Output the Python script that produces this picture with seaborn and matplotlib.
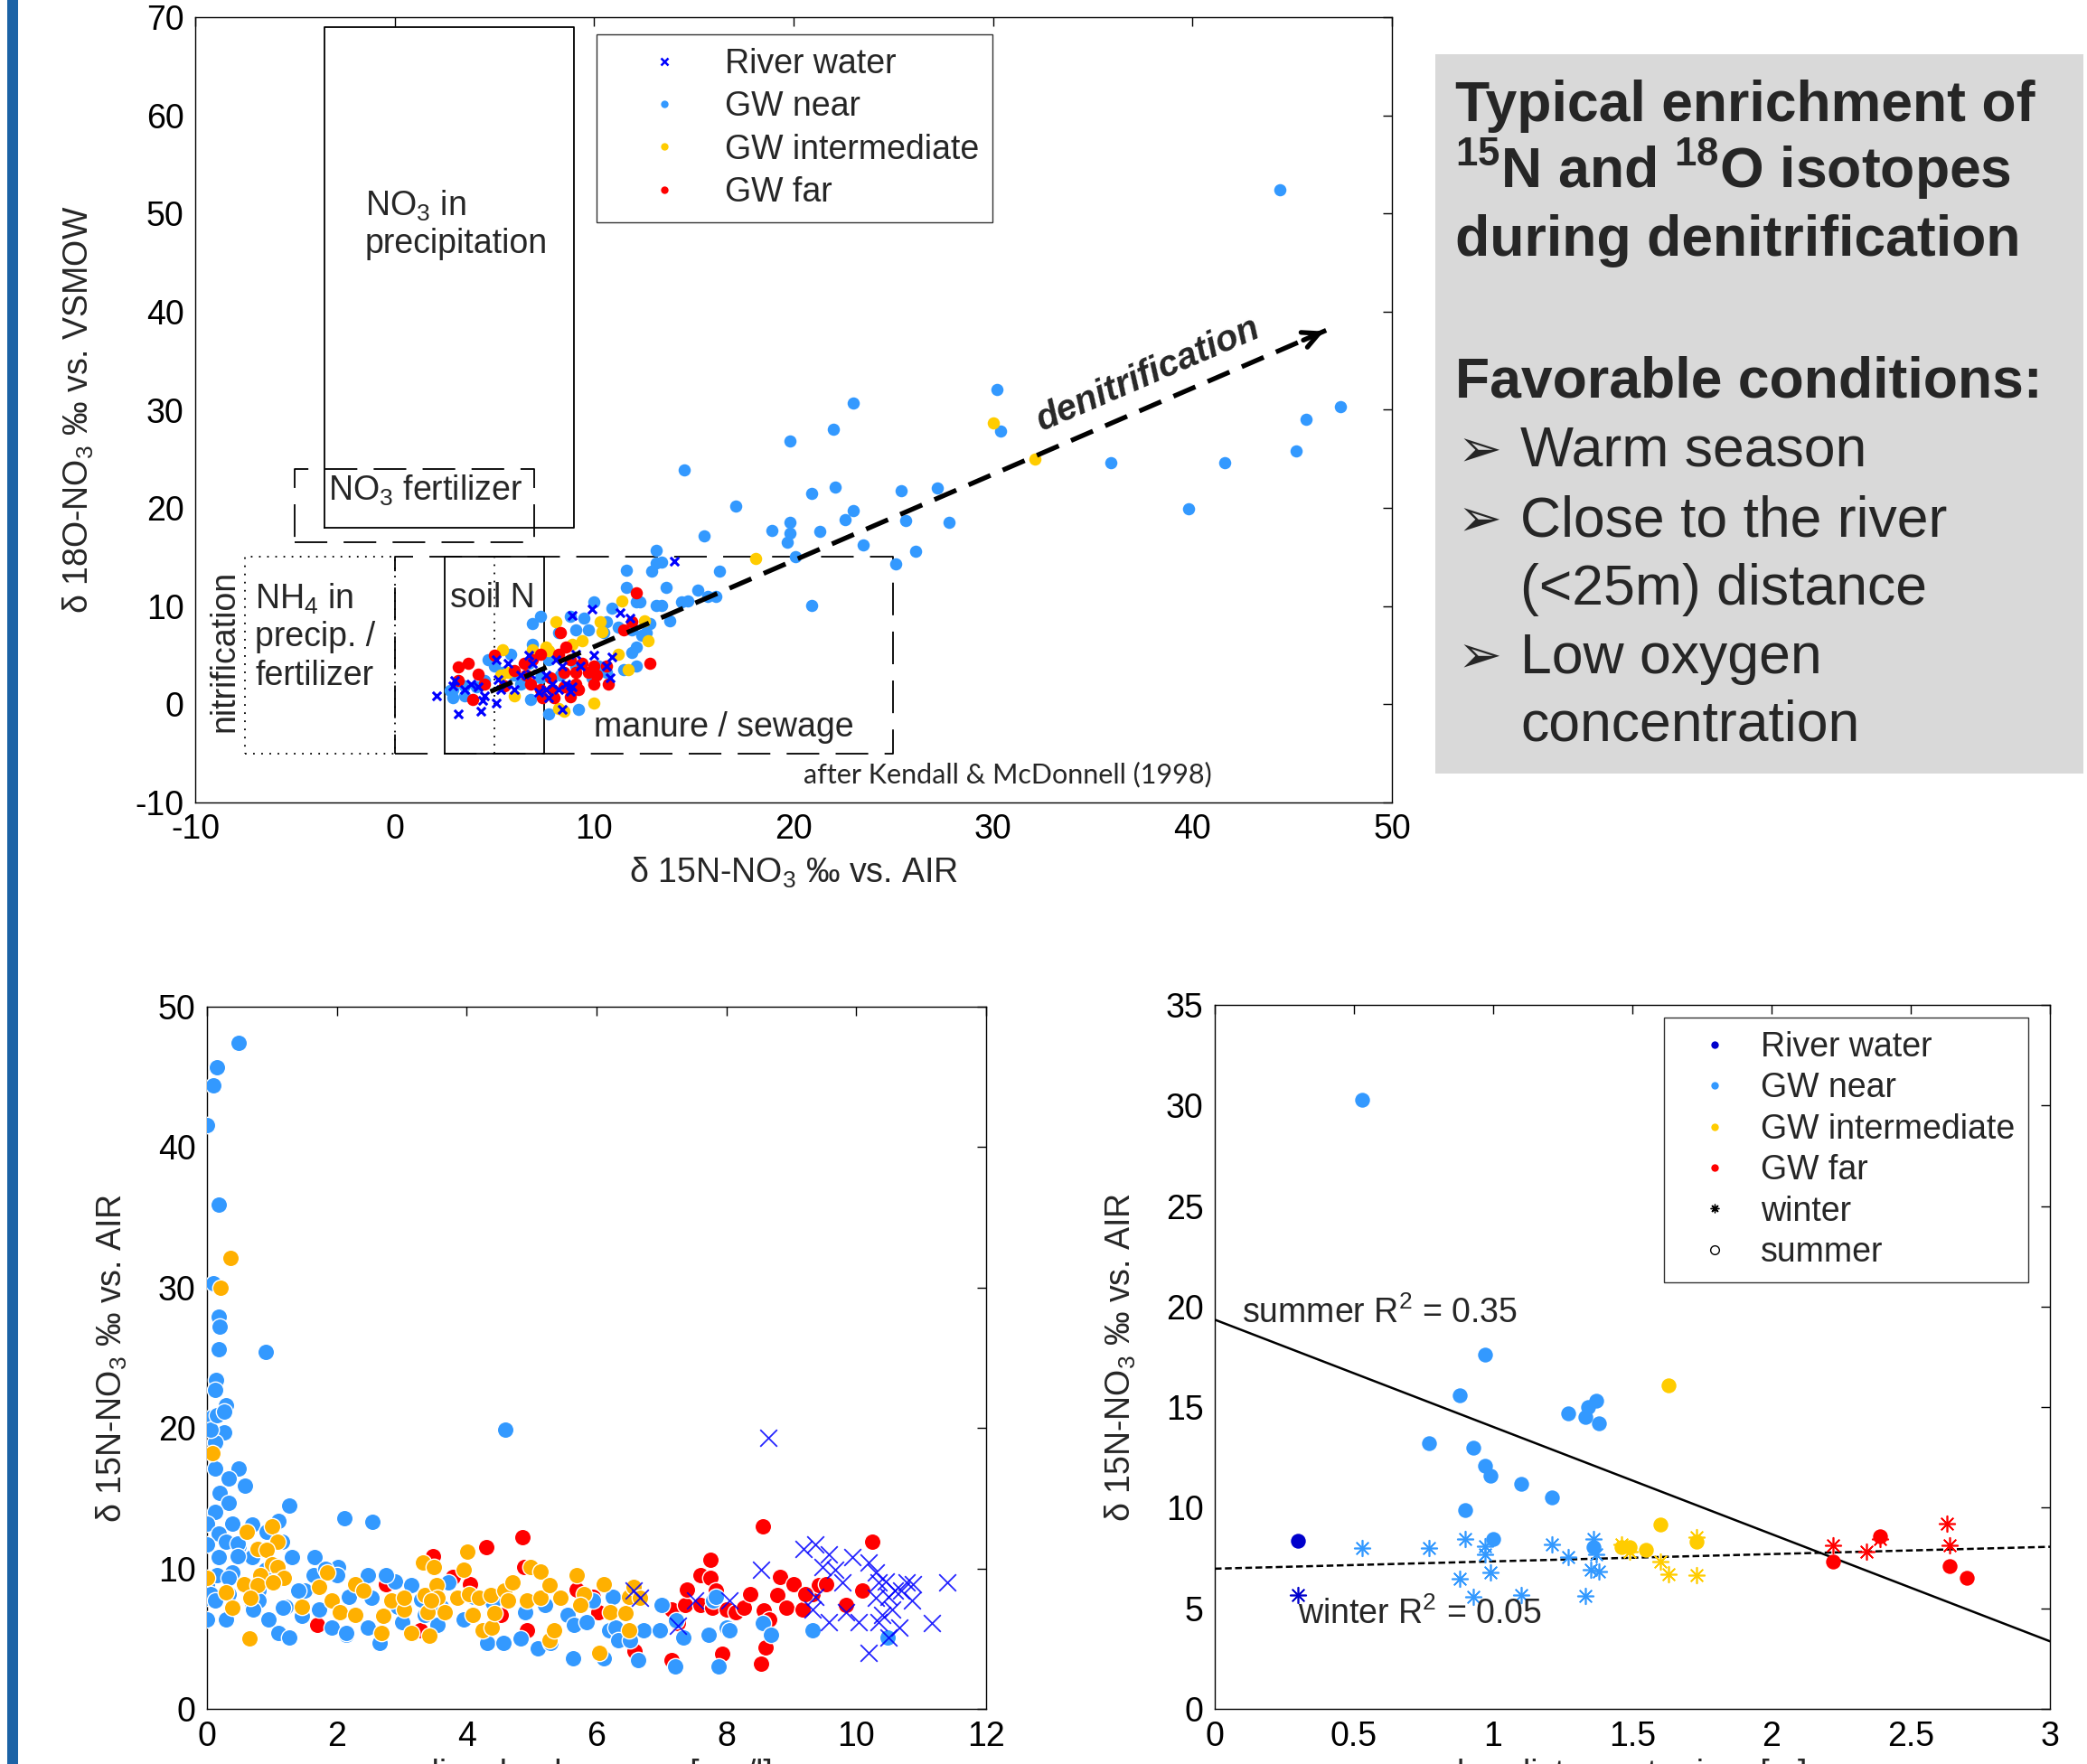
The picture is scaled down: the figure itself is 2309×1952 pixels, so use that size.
import numpy as np
import matplotlib
matplotlib.use("Agg")
import matplotlib.pyplot as plt
import seaborn as sns
from matplotlib.lines import Line2D
from matplotlib.patches import Rectangle
from matplotlib.ticker import FuncFormatter

sns.set_style("white")
plt.rcParams['font.family'] = ['Liberation Sans', 'DejaVu Sans']
plt.rcParams['mathtext.fontset'] = 'custom'
plt.rcParams['mathtext.rm'] = 'Liberation Sans'
plt.rcParams['mathtext.it'] = 'Liberation Sans:italic'
plt.rcParams['mathtext.bf'] = 'Liberation Sans:bold'

# ---------------- data: d15N vs d18O (top panel) ----------------
top_near_x = [44.4, 30.2, 30.4, 47.4, 45.7, 45.2, 35.9, 41.6, 39.8, 23.0, 22.0, 19.8, 22.1, 20.9, 25.4,
              27.2, 14.5, 17.1, 23.0, 22.6, 25.6, 27.8, 19.8, 18.9, 21.3, 19.8, 19.7, 15.5, 23.5, 26.1,
              20.1, 25.1, 20.9, 13.1, 13.1, 13.4, 11.6, 12.9, 13.6, 15.2, 15.7, 11.6, 12.1, 12.3, 13.1,
              13.4, 14.4, 14.7, 10.0, 10.9, 7.3, 6.9, 8.8, 9.5, 10.6, 11.2, 11.9, 12.8, 13.8, 9.1,
              9.7, 10.5, 12.4, 12.1, 11.9, 12.6, 8.2, 6.9, 5.8, 4.7, 5.0, 5.4, 6.0, 4.5, 3.5,
              2.9, 2.9, 3.5, 4.1, 7.7, 9.2, 12.1, 11.5, 10.6, 9.9, 10.2, 7.3, 6.3, 6.8, 8.3,
              9.1, 7.7, 6.7, 2.8, 16.1, 16.3]
top_near_y = [52.4, 32.1, 27.8, 30.3, 29.0, 25.8, 24.6, 24.6, 19.9, 30.7, 28.0, 26.8, 22.1, 21.5, 21.8,
              22.0, 23.9, 20.2, 19.7, 18.8, 18.7, 18.5, 18.5, 17.7, 17.6, 17.4, 16.5, 17.2, 16.2, 15.6,
              15.0, 14.3, 10.1, 15.7, 14.4, 14.5, 13.7, 13.6, 11.9, 11.6, 11.0, 11.9, 10.4, 10.4, 10.1,
              10.1, 10.4, 10.5, 10.4, 9.8, 9.0, 8.2, 9.0, 8.8, 8.4, 7.9, 7.6, 8.2, 8.5, 7.6,
              7.6, 7.3, 7.0, 5.8, 5.3, 7.3, 7.3, 6.1, 5.1, 4.5, 3.9, 3.3, 3.0, 2.4, 1.9,
              1.5, 0.7, 0.9, 1.8, -1.0, -0.5, 3.9, 3.5, 3.3, 2.7, 3.9, 2.7, 2.1, 0.5, 3.0,
              3.9, 4.5, 4.2, 1.4, 11.0, 13.6]

top_mid_x = [30.0, 32.1, 18.1, 11.4, 8.1, 10.3, 10.4, 9.4, 8.9, 8.2, 7.7, 6.9, 5.4, 5.7, 5.3,
             6.0, 12.7, 12.5, 11.7, 11.2, 10.0, 8.5, 8.2, 7.6]
top_mid_y = [28.7, 25.0, 14.9, 10.5, 8.4, 8.4, 7.4, 6.5, 6.1, 4.8, 5.5, 5.6, 5.6, 3.3, 3.0,
             0.9, 6.5, 8.5, 3.5, 5.1, 0.1, -0.7, -0.4, 5.8]

top_far_x = [12.1, 11.9, 11.5, 8.3, 8.6, 8.2, 7.3, 8.8, 9.4, 10.0, 9.7, 9.1, 8.5, 7.8, 6.9,
             6.5, 6.6, 6.8, 7.3, 7.9, 8.5, 9.1, 9.2, 10.0, 10.6, 10.7, 10.1, 12.8, 3.7, 3.2,
             4.2, 3.2, 5.0, 4.5, 5.5, 3.9, 7.4, 6.0, 8.0, 8.8]
top_far_y = [11.4, 8.4, 7.6, 7.3, 5.8, 5.1, 5.1, 4.5, 4.2, 3.9, 3.3, 3.3, 3.3, 2.7, 4.5,
             4.2, 3.0, 2.1, 1.5, 1.5, 1.8, 2.1, 1.5, 2.1, 3.9, 2.1, 3.0, 4.2, 4.2, 3.8,
             3.1, 2.4, 5.0, 2.1, 1.9, 0.5, 0.7, 3.4, 0.7, 0.8]

top_river_x = [14.0, 8.9, 9.9, 11.3, 11.8, 10.9, 10.6, 10.8, 10.0, 9.1, 9.3, 8.4, 8.1, 6.7, 6.9,
               5.7, 5.1, 6.3, 6.8, 7.6, 7.9, 8.2, 8.6, 8.9, 8.8, 7.6, 7.2, 7.7, 6.0, 5.6,
               5.2, 5.3, 5.1, 4.4, 4.5, 4.2, 3.8, 3.5, 2.9, 3.0, 2.1, 3.2, 4.3, 8.4]
top_river_y = [14.6, 9.1, 9.7, 9.3, 8.8, 4.8, 3.9, 2.7, 5.0, 5.1, 3.9, 3.9, 4.5, 5.0, 4.2,
               4.2, 4.5, 3.0, 3.1, 3.0, 2.1, 1.5, 2.1, 1.8, 1.3, 1.5, 1.2, 0.7, 1.5, 2.1,
               2.5, 1.5, 0.1, 0.4, 0.9, 1.8, 2.1, 1.5, 1.9, 2.4, 0.9, -1.0, -0.7, -0.5]

# source ranges after Kendall & McDonnell (1998): (x0, x1, y0, y1)
box_precip = (-3.5, 9.0, 18.0, 69.0)
box_fert = (-5.0, 7.0, 16.5, 24.0)
box_nh4 = (-7.5, 0.0, -5.0, 15.0)
box_manure = (0.0, 25.0, -5.0, 15.0)
box_soil = (2.5, 7.5, -5.0, 15.0)
soil_mid = 5.0
denit_start = (4.8, 1.3)
denit_end = (46.7, 38.1)

# ---------------- data: O2 vs d15N (bottom left) ----------------
bl_near_x = [0.49, 0.16, 0.10, 0.0, 0.18, 0.10, 0.18, 0.20, 0.18, 0.90, 0.14, 0.13, 0.29, 0.08, 0.27,
             0.13, 4.6, 0.49, 0.13, 0.34, 0.59, 0.20, 0.34, 0.13, 1.26, 2.12, 2.55, 0.39, 0.0, 0.69,
             0.18, 0.0, 0.29, 0.49, 1.15, 0.18, 0.69, 1.31, 1.66, 2.02, 0.39, 0.90, 1.82, 2.48, 2.89,
             0.0, 0.34, 0.80, 1.51, 2.18, 2.53, 3.15, 3.71, 0.0, 0.69, 1.21, 1.72, 2.94, 3.35, 3.96,
             0.0, 0.29, 0.95, 1.46, 1.92, 2.48, 1.10, 1.26, 2.15, 2.66, 3.55, 4.32, 4.57, 4.83, 5.09,
             5.29, 5.55, 5.65, 5.64, 5.85, 5.95, 6.11, 6.19, 6.29, 6.33, 6.25, 6.52, 6.64, 6.72, 6.98,
             7.0, 7.23, 7.33, 7.21, 7.72, 7.8, 7.84, 7.88, 8.0, 8.05, 8.56, 8.68, 9.33, 10.48,
             0.06, 0.15, 0.27, 0.47, 0.47, 0.92, 1.1, 0.15, 0.34, 0.06, 0.13, 0.8, 1.17, 0.71, 1.41,
             1.64, 1.82, 2.0, 1.92, 2.14, 2.75, 3.0, 3.3, 3.6, 4.1, 4.4, 4.9, 5.2]
bl_near_y = [47.4, 45.7, 44.4, 41.6, 35.9, 30.3, 27.9, 27.2, 25.6, 25.4, 23.4, 22.7, 21.6, 20.8, 19.7,
             19.0, 19.9, 17.1, 17.1, 16.4, 15.9, 15.4, 14.7, 14.0, 14.5, 13.6, 13.3, 13.2, 13.2, 13.1,
             12.5, 11.7, 11.9, 11.6, 11.9, 10.8, 10.8, 10.8, 10.8, 10.1, 9.7, 9.9, 9.7, 9.5, 9.1,
             8.8, 8.2, 8.4, 8.4, 8.0, 7.9, 8.8, 9.0, 7.9, 7.5, 7.3, 7.1, 7.3, 6.7, 6.4,
             6.4, 6.4, 6.4, 6.6, 5.8, 5.8, 5.4, 5.1, 5.3, 4.7, 6.0, 4.7, 4.7, 5.0, 4.3,
             4.7, 6.7, 6.0, 3.6, 6.2, 7.7, 3.6, 5.6, 5.8, 4.9, 8.0, 4.9, 3.5, 5.6, 5.6,
             7.4, 6.3, 5.1, 3.0, 5.3, 7.7, 8.0, 3.0, 5.8, 5.6, 6.1, 5.3, 5.6, 5.1,
             19.9, 20.9, 21.2, 11.8, 10.9, 12.6, 13.4, 9.5, 9.3, 8.2, 7.7, 7.7, 7.2, 7.1, 8.4,
             9.5, 10.0, 9.5, 7.7, 5.4, 9.5, 6.2, 7.8, 7.3, 8.0, 7.6, 6.9, 7.4]

bl_mid_x = [0.36, 0.21, 0.08, 0.0, 0.29, 0.39, 0.66, 0.61, 1.0, 1.08, 0.78, 0.92, 1.0, 1.08, 0.82,
            1.05, 1.18, 0.57, 0.78, 1.02, 0.67, 1.46, 1.72, 1.85, 1.92, 2.04, 2.28, 2.28, 2.41, 2.71,
            2.68, 2.84, 3.04, 3.04, 3.15, 3.33, 3.35, 3.4, 3.43, 3.5, 3.53, 3.55, 3.66, 3.45, 3.86,
            3.96, 4.01, 4.04, 4.09, 4.19, 4.25, 4.37, 4.39, 4.42, 4.58, 4.63, 4.7, 4.93, 4.98, 5.14,
            5.14, 5.27, 5.27, 5.34, 5.44, 5.7, 5.8, 5.75, 6.04, 6.11, 6.21, 6.44, 6.5, 6.5, 6.57,
            6.67]
bl_mid_y = [32.1, 30.0, 18.2, 9.3, 8.3, 7.2, 5.0, 12.6, 13.0, 11.9, 11.4, 11.3, 10.3, 10.1, 9.5,
            9.1, 9.3, 8.9, 8.8, 9.0, 7.9, 7.3, 8.7, 9.7, 7.7, 6.9, 8.9, 6.7, 8.4, 6.6,
            5.4, 7.7, 7.1, 7.9, 5.4, 10.4, 8.1, 6.9, 5.2, 10.1, 8.8, 7.9, 6.9, 7.7, 7.9,
            9.9, 11.2, 8.2, 6.7, 7.9, 5.6, 8.1, 5.8, 6.8, 8.4, 7.7, 9.0, 7.7, 10.1, 9.8,
            7.9, 8.8, 4.9, 5.6, 7.9, 9.5, 8.2, 7.4, 4.0, 8.9, 6.9, 6.8, 5.6, 8.0, 8.7,
            7.9]

bl_far_x = [3.48, 4.3, 4.86, 4.88, 3.78, 4.05, 4.52, 4.93, 1.7, 2.76, 3.29, 5.7, 5.95, 6.03, 6.59,
            7.15, 7.15, 7.25, 7.36, 7.39, 7.6, 7.6, 7.76, 7.76, 7.78, 7.84, 7.93, 8.0, 8.15, 8.27,
            8.36, 8.56, 8.58, 8.6, 8.53, 8.66, 8.78, 8.82, 8.92, 9.04, 9.17, 9.33, 9.43, 9.53, 9.84,
            10.09, 10.24, 9.22]
bl_far_y = [10.9, 11.5, 12.2, 10.1, 9.4, 8.9, 6.7, 5.6, 6.0, 8.9, 5.6, 8.5, 8.0, 6.9, 4.1,
            7.1, 3.5, 6.1, 7.4, 8.5, 9.5, 7.4, 10.6, 9.3, 7.2, 8.4, 3.9, 7.1, 6.9, 7.2,
            8.2, 13.0, 7.0, 4.4, 3.2, 6.4, 8.1, 9.4, 7.2, 8.9, 7.1, 8.2, 8.8, 8.9, 7.4,
            8.4, 11.9, 8.2]

bl_river_x = [8.64, 8.54, 7.25, 6.57, 6.67, 7.52, 8.05, 9.19, 9.37, 9.48, 9.68, 9.58, 9.94, 9.79, 9.37,
              9.33, 9.58, 9.84, 10.04, 10.19, 10.3, 10.35, 10.45, 10.5, 10.3, 10.55, 10.4, 10.35, 10.67, 10.19,
              10.5, 10.69, 10.77, 10.87, 10.86, 11.16, 11.4, 10.6]
bl_river_y = [19.3, 9.9, 5.9, 8.4, 7.9, 7.7, 7.7, 11.4, 11.7, 10.1, 9.9, 11.0, 10.8, 9.0, 8.0,
              7.1, 6.2, 6.9, 6.2, 10.4, 9.7, 9.0, 9.1, 8.0, 7.9, 7.1, 6.7, 6.2, 5.8, 4.0,
              5.1, 8.4, 9.0, 8.9, 7.7, 6.1, 9.0, 8.4]

# ---------------- data: log distance vs d15N (bottom right) ----------------
su_river_x, su_river_y = [0.30], [8.37]
su_near_x = [0.53, 0.97, 0.88, 0.77, 0.93, 0.97, 0.99, 1.10, 1.21, 0.90, 1.00, 1.27, 1.33, 1.34, 1.37, 1.38, 1.36]
su_near_y = [30.3, 17.6, 15.6, 13.2, 13.0, 12.1, 11.6, 11.2, 10.5, 9.9, 8.45, 14.7, 14.5, 15.0, 15.3, 14.2, 8.06]
su_mid_x = [1.63, 1.60, 1.46, 1.49, 1.55, 1.73]
su_mid_y = [16.1, 9.17, 8.06, 8.06, 7.93, 8.32]
su_far_x = [2.39, 2.22, 2.64, 2.70]
su_far_y = [8.58, 7.34, 7.10, 6.51]

wi_river_x, wi_river_y = [0.30], [5.66]
wi_near_x = [0.53, 0.77, 0.90, 0.97, 0.97, 0.88, 0.99, 0.93, 1.10, 1.21, 1.27, 1.33, 1.36, 1.37, 1.35, 1.38]
wi_near_y = [7.98, 8.0, 8.45, 8.1, 7.67, 6.46, 6.77, 5.55, 5.66, 8.19, 7.54, 5.61, 8.45, 7.67, 6.9, 6.82]
wi_mid_x = [1.46, 1.49, 1.60, 1.63, 1.73, 1.73]
wi_mid_y = [8.19, 7.8, 7.34, 6.69, 8.53, 6.64]
wi_far_x = [2.22, 2.34, 2.39, 2.63, 2.64]
wi_far_y = [8.11, 7.8, 8.45, 9.22, 8.11]

summer_fit = (19.35, -5.33)   # intercept, slope
winter_fit = (6.97, 0.363)

# colours
c_river = '#0000FF'
c_near = '#3399FF'
c_mid = '#FFCC00'
c_mid_bl = '#FFB000'
c_far = '#FF0000'

FS = 27
W, H = 2309, 1952
fig = plt.figure(figsize=(W / 100, H / 100), dpi=100)
fig.patch.set_facecolor('white')

# left blue bar and grey text panel
fig.add_artist(Rectangle((8 / W, 0), 12 / W, 1, transform=fig.transFigure,
                         facecolor='#1c63a6', edgecolor='none'))
fig.add_artist(Rectangle((1588 / W, 1 - 856 / H), 717 / W, 796 / H, transform=fig.transFigure,
                         facecolor='#d9d9d9', edgecolor='none'))


def style_axes(ax):
    for sp in ax.spines.values():
        sp.set_visible(True)
        sp.set_color('black')
        sp.set_linewidth(1.0)
    ax.tick_params(direction='in', length=7, width=1, top=True, right=True,
                   labelsize=FS, pad=9, colors='black')
    ax.xaxis.set_major_formatter(FuncFormatter(lambda v, p: '%g' % v))
    ax.yaxis.set_major_formatter(FuncFormatter(lambda v, p: '%g' % v))


def draw_box(ax, b, ls, lw=1.3):
    x0, x1, y0, y1 = b
    ax.plot([x0, x1, x1, x0, x0], [y0, y0, y1, y1, y0], color='black', ls=ls, lw=lw, zorder=1)


# ---------------- top panel ----------------
ax1 = fig.add_axes([216 / W, 1 - 888 / H, 1324 / W, 869 / H])
long_dash = (0, (20, 10))
draw_box(ax1, box_precip, '-')
draw_box(ax1, box_fert, long_dash)
draw_box(ax1, box_nh4, (0, (1, 4)))
draw_box(ax1, box_manure, long_dash)
draw_box(ax1, box_soil, '-')
ax1.plot([soil_mid, soil_mid], [box_soil[2], box_soil[3]], color='black', ls=(0, (1, 4)), lw=1.3)

sns.scatterplot(x=top_near_x, y=top_near_y, ax=ax1, color=c_near, s=95, linewidth=0, zorder=3, legend=False)
sns.scatterplot(x=top_mid_x, y=top_mid_y, ax=ax1, color=c_mid, s=95, linewidth=0, zorder=3, legend=False)
sns.scatterplot(x=top_far_x, y=top_far_y, ax=ax1, color=c_far, s=95, linewidth=0, zorder=3, legend=False)
sns.scatterplot(x=top_river_x, y=top_river_y, ax=ax1, marker='x', color=c_river, edgecolor=c_river,
                s=45, linewidth=2.2, zorder=4, legend=False)

# denitrification arrow
ax1.plot([denit_start[0], denit_end[0]], [denit_start[1], denit_end[1]], color='black',
         lw=3.8, ls=(0, (5, 2.8)), zorder=5)
ax1.annotate('', xy=denit_end,
             xytext=(denit_end[0] - 0.03 * (denit_end[0] - denit_start[0]),
                     denit_end[1] - 0.03 * (denit_end[1] - denit_start[1])),
             arrowprops=dict(arrowstyle='->', lw=3.8, color='black', mutation_scale=32), zorder=5)
ax1.text(37.8, 33.6, 'denitrification', rotation=23.4, rotation_mode='anchor', ha='center', va='center',
         fontsize=29, fontweight='bold', fontstyle='italic', zorder=6)

ax1.text(-1.5, 49.8, 'NO$_3$ in', fontsize=FS, va='baseline')
ax1.text(-1.5, 46.0, 'precipitation', fontsize=FS, va='baseline')
ax1.text(-3.33, 20.8, 'NO$_3$ fertilizer', fontsize=FS, va='baseline')
ax1.text(-7.0, 9.74, 'NH$_4$ in', fontsize=FS, va='baseline')
ax1.text(-7.0, 5.93, 'precip. /', fontsize=FS, va='baseline')
ax1.text(-7.0, 2.0, 'fertilizer', fontsize=FS, va='baseline')
ax1.text(-8.55, 5.4, 'nitrification', fontsize=FS, rotation=90, ha='center', va='center')
ax1.text(2.76, 9.9, 'soil N', fontsize=FS, va='baseline')
ax1.text(9.97, -3.27, 'manure / sewage', fontsize=FS, va='baseline')
ax1.text(20.48, -8.0, 'after Kendall & McDonnell (1998)', fontsize=22, va='baseline',
         family=['Lato', 'DejaVu Sans'])

ax1.set_xlim(-10, 50)
ax1.set_ylim(-10, 70)
ax1.set_xticks(np.arange(-10, 51, 10))
ax1.set_yticks(np.arange(-10, 71, 10))
style_axes(ax1)
ax1.set_xlabel('δ 15N-NO$_3$ ‰ vs. AIR', fontsize=FS)
ax1.set_ylabel('δ 18O-NO$_3$ ‰ vs. VSMOW', fontsize=FS)
ax1.xaxis.set_label_coords(0.5, -0.068)
ax1.yaxis.set_label_coords(-0.083, 0.5)

h_top = [Line2D([], [], ls='none', marker='x', color=c_river, markersize=6, mew=1.8),
         Line2D([], [], ls='none', marker='o', color=c_near, markersize=6, mew=0),
         Line2D([], [], ls='none', marker='o', color=c_mid, markersize=6, mew=0),
         Line2D([], [], ls='none', marker='o', color=c_far, markersize=6, mew=0)]
leg1 = ax1.legend(h_top, ['River water', 'GW near', 'GW intermediate', 'GW far'],
                  loc='upper left', bbox_to_anchor=(0.335, 0.978), borderaxespad=0,
                  fontsize=FS, frameon=True, fancybox=False, edgecolor='black',
                  borderpad=0.4, handlelength=3.2, handletextpad=0.2, labelspacing=0.3)
leg1.get_frame().set_linewidth(1.0)

# ---------------- bottom left ----------------
ax2 = fig.add_axes([229 / W, 1 - 1891 / H, 862 / W, 777 / H])
sns.scatterplot(x=bl_far_x, y=bl_far_y, ax=ax2, color=c_far, s=175, edgecolor='white', linewidth=1,
                zorder=3, legend=False)
sns.scatterplot(x=bl_near_x, y=bl_near_y, ax=ax2, color=c_near, s=175, edgecolor='white', linewidth=1,
                zorder=3, legend=False)
sns.scatterplot(x=bl_mid_x, y=bl_mid_y, ax=ax2, color=c_mid_bl, s=175, edgecolor='white', linewidth=1,
                zorder=3, legend=False)
sns.scatterplot(x=bl_river_x, y=bl_river_y, ax=ax2, marker='x', color=c_river, edgecolor=c_river,
                s=180, linewidth=1.3, alpha=0.85, zorder=4, legend=False)
ax2.set_xlim(0, 12)
ax2.set_ylim(0, 50)
ax2.set_xticks(np.arange(0, 13, 2))
ax2.set_yticks(np.arange(0, 51, 10))
style_axes(ax2)
ax2.set_ylabel('δ 15N-NO$_3$ ‰ vs. AIR', fontsize=FS)
ax2.yaxis.set_label_coords(-0.10, 0.5)

# ---------------- bottom right ----------------
ax3 = fig.add_axes([1344 / W, 1 - 1891 / H, 924 / W, 779 / H])
fx = np.array([0, 3])
ax3.plot(fx, summer_fit[0] + summer_fit[1] * fx, color='black', lw=1.8, zorder=2)
ax3.plot(fx, winter_fit[0] + winter_fit[1] * fx, color='black', lw=1.8, ls=(0, (3, 1.5)), zorder=2)
ast = (8, 2, 0)
for xs, ys, c in [(wi_river_x, wi_river_y, '#0000CC'), (wi_near_x, wi_near_y, c_near),
                  (wi_mid_x, wi_mid_y, c_mid), (wi_far_x, wi_far_y, c_far)]:
    sns.scatterplot(x=xs, y=ys, ax=ax3, marker=ast, color=c, edgecolor=c, s=160, linewidth=1.2,
                    zorder=3, legend=False)
for xs, ys, c in [(su_river_x, su_river_y, '#0000CC'), (su_near_x, su_near_y, c_near),
                  (su_mid_x, su_mid_y, c_mid), (su_far_x, su_far_y, c_far)]:
    sns.scatterplot(x=xs, y=ys, ax=ax3, marker='o', color=c, s=140, linewidth=0, zorder=4, legend=False)
ax3.text(0.096, 19.17, 'summer R$^2$ = 0.35', fontsize=FS, va='baseline')
ax3.text(0.30, 4.24, 'winter R$^2$ = 0.05', fontsize=FS, va='baseline')
ax3.set_xlim(0, 3)
ax3.set_ylim(0, 35)
ax3.set_xticks(np.arange(0, 3.01, 0.5))
ax3.set_yticks(np.arange(0, 36, 5))
style_axes(ax3)
ax3.set_ylabel('δ 15N-NO$_3$ ‰ vs. AIR', fontsize=FS)
ax3.yaxis.set_label_coords(-0.092, 0.5)

h_br = [Line2D([], [], ls='none', marker='o', color='#0000CC', markersize=6, mew=0),
        Line2D([], [], ls='none', marker='o', color=c_near, markersize=6, mew=0),
        Line2D([], [], ls='none', marker='o', color=c_mid, markersize=6, mew=0),
        Line2D([], [], ls='none', marker='o', color=c_far, markersize=6, mew=0),
        Line2D([], [], ls='none', marker=ast, color='black', markersize=7, mew=1),
        Line2D([], [], ls='none', marker='o', markerfacecolor='none', markeredgecolor='black',
               markersize=7, mew=1)]
leg3 = ax3.legend(h_br, ['River water', 'GW near', 'GW intermediate', 'GW far', 'winter', 'summer'],
                  loc='upper left', bbox_to_anchor=(0.538, 0.982), borderaxespad=0,
                  fontsize=FS, frameon=True, fancybox=False, edgecolor='black',
                  borderpad=0.4, handlelength=2.2, handletextpad=0.25, labelspacing=0.25)
leg3.get_frame().set_linewidth(1.0)

# x labels of the lower panels, cut by the lower edge of the slide
fig.text(660 / W, 1 - 1946 / H, 'dissolved oxygen [mg/l]', fontsize=FS, ha='center', va='top')
fig.text(1806 / W, 1 - 1946 / H, 'log distance to river [m]', fontsize=FS, ha='center', va='top')

# ---------------- text panel ----------------
tx, ax_arrow, tx_body = 1610 / W, 1613 / W, 1682 / W
bold_lines = [(133.6, 'Typical enrichment of'),
              (207.8, r'$^{\mathbf{15}}$N and $^{\mathbf{18}}$O isotopes'),
              (283.0, 'during denitrification'),
              (439.0, 'Favorable conditions:')]
for b, s in bold_lines:
    fig.text(tx, 1 - b / H, s, fontsize=45, fontweight='bold', va='baseline', ha='left')
body_lines = [(516.0, 'Warm season', True),
              (593.0, 'Close to the river', True),
              (669.0, '(<25m) distance', False),
              (744.6, 'Low oxygen', True),
              (820.0, 'concentration', False)]
for b, s, bullet in body_lines:
    if bullet:
        fig.text(ax_arrow, 1 - b / H, '➢', fontsize=42, va='baseline', ha='left',
                 family=['DejaVu Sans'])
    fig.text(tx_body, 1 - b / H, s, fontsize=45, va='baseline', ha='left')

fig.savefig('out.png', dpi=100, facecolor='white')
